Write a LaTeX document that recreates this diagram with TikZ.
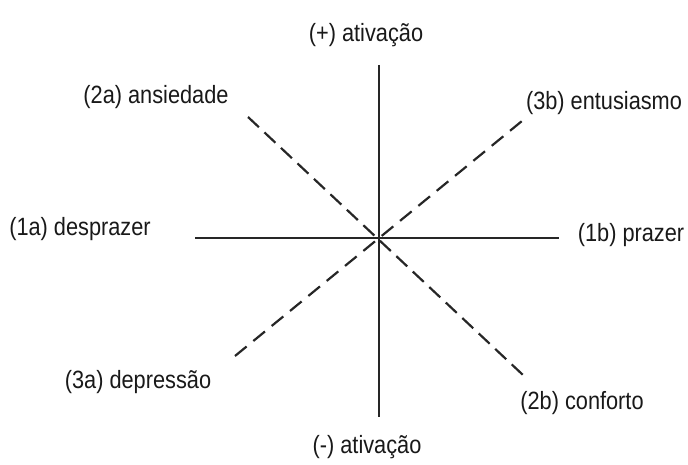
\documentclass[tikz,border=0pt]{standalone}
\usepackage{fontspec}
\setmainfont{Liberation Sans}
\newcommand{\narrowtxt}[1]{\scalebox{0.87}[1]{#1}}
\begin{document}
\begin{tikzpicture}[x=1pt,y=1pt,
  lbl/.style={font=\fontsize{25}{28}\selectfont, inner sep=0pt, text=black!90},
  axis/.style={line width=2pt, draw=black!85},
  diag/.style={line width=2.2pt, draw=black!85, dash pattern=on 15pt off #1}]
\useasboundingbox (0,0) rectangle (688,464);
% axis end points
\coordinate (vt) at (379,399);
\coordinate (vb) at (379,47);
\coordinate (hl) at (195,226);
\coordinate (hr) at (559,226);
\coordinate (d2a) at (248,347);
\coordinate (d2b) at (523,89);
\coordinate (d3a) at (235,108);
\coordinate (d3b) at (522,343);
% lines
\draw[axis] (vt) -- (vb);
\draw[axis] (hl) -- (hr);
\draw[diag=7.6pt] (d2a) -- (d2b);
\draw[diag=8.7pt] (d3a) -- (d3b);
% labels
\node[lbl] (plus) at (366,429) {\narrowtxt{(+) ativação}};
\node[lbl] (minus) at (367,17) {\narrowtxt{(-) ativação}};
\node[lbl] (l1a) at (80,235) {\narrowtxt{(1a) desprazer}};
\node[lbl] (l1b) at (631,229) {\narrowtxt{(1b) prazer}};
\node[lbl] (l2a) at (156,367) {\narrowtxt{(2a) ansiedade}};
\node[lbl] (l2b) at (582,61) {\narrowtxt{(2b) conforto}};
\node[lbl] (l3a) at (138,82) {\narrowtxt{(3a) depressão}};
\node[lbl] (l3b) at (604,361) {\narrowtxt{(3b) entusiasmo}};
\end{tikzpicture}
\end{document}
